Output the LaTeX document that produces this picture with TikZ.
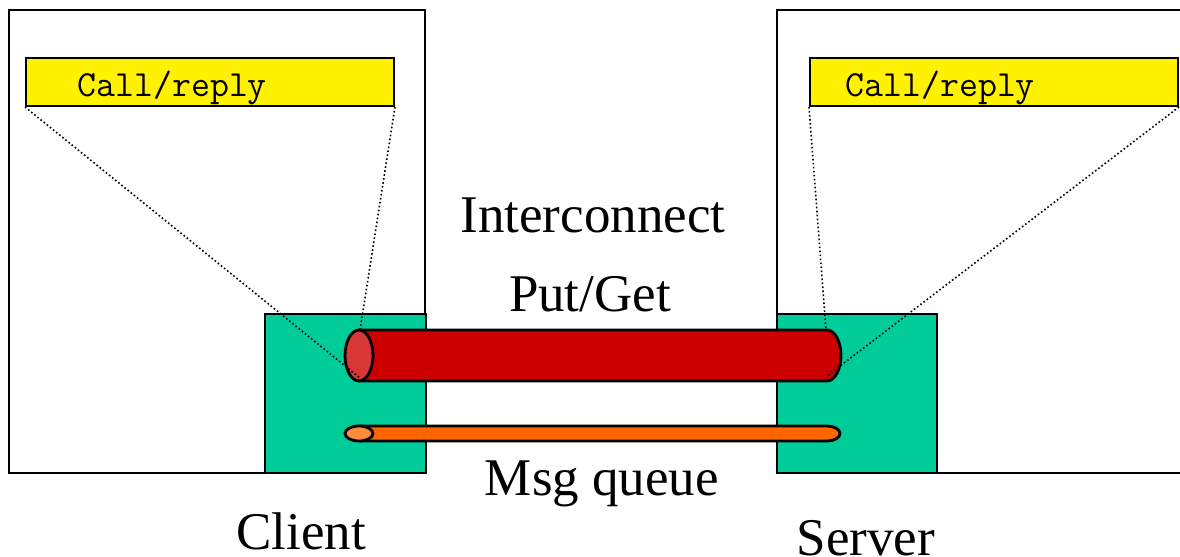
\documentclass[tikz,border=0pt]{standalone}
\usepackage{fontspec}
\setmainfont{Liberation Serif}
\begin{document}
\begin{tikzpicture}[x=0.5pt,y=-0.5pt,
  outerbox/.style={draw=black,line width=0.8pt},
  stub/.style={draw=black,line width=1.3pt,fill=stubgreen},
  callbox/.style={draw=black,line width=1pt,fill=yellow,anchor=north west,
    minimum width=184pt,minimum height=24pt,inner sep=0pt},
  calltext/.style={font=\ttfamily\fontsize{18.4}{18.4}\selectfont,anchor=base west,inner sep=0pt},
  bigtext/.style={font=\fontsize{26.5}{26.5}\selectfont,anchor=base,inner sep=0pt},
  zoomline/.style={draw=black,line width=0.8pt,dash pattern=on 0.8pt off 1.2pt},
  pipe/.style={draw=black,line width=1.4pt}]
\definecolor{stubgreen}{HTML}{00CC99}
\definecolor{pipered}{HTML}{CC0000}
\definecolor{pipeend}{HTML}{D93636}
\definecolor{queueorange}{HTML}{FF6600}
\definecolor{queueend}{HTML}{FF8C3A}
\useasboundingbox (0,0) rectangle (1180,557);

% host frames
\draw[outerbox] (9,10) rectangle (425,473);
\draw[outerbox] (1190,10) -- (777,10) -- (777,473) -- (1190,473);

% communication stubs
\draw[stub] (265,314) rectangle (426,473);
\draw[stub] (777,314) rectangle (937,473);

% call/reply boxes
\node[callbox] (cbox) at (25,57) {};
\node[callbox] (sbox) at (809,57) {};
\node[calltext] (ctext) at (77,97) {Call/reply};
\node[calltext] (stext) at (845,97) {Call/reply};

% interconnect pipe (y axis points down, so arcs run from -90 to 90)
\coordinate (pl) at (359,355.5);
\coordinate (pltop) at (360,330);
\coordinate (plbot) at (360,378);
\coordinate (prtop) at (826,330);
\coordinate (prbot) at (827,376);
\fill[pipered] (359,330) -- (827,330) arc[start angle=-90,end angle=90,x radius=14,y radius=25.5] -- (359,381) -- cycle;
\draw[pipe] (359,330) -- (827,330) arc[start angle=-90,end angle=90,x radius=14,y radius=25.5] -- (359,381);
\draw[pipe,fill=pipeend] (pl) ellipse[x radius=14,y radius=25.5];

% message queue pipe
\coordinate (ql) at (359,433.5);
\fill[queueorange] (359,426) -- (827,426) arc[start angle=-90,end angle=90,x radius=13,y radius=7.5] -- (359,441) -- cycle;
\draw[pipe] (359,426) -- (827,426) arc[start angle=-90,end angle=90,x radius=13,y radius=7.5] -- (359,441);
\draw[pipe,fill=queueend] (ql) ellipse[x radius=14,y radius=7.5];

% zoom lines
\draw[zoomline] (cbox.south west) -- (plbot);
\draw[zoomline] (cbox.south east) -- (pltop);
\draw[zoomline] (sbox.south west) -- (prtop);
\draw[zoomline] (sbox.south east) -- (prbot);

% labels
\node[bigtext] (inter) at (593,232) {Interconnect};
\node[bigtext] (putget) at (590,311) {Put/Get};
\node[bigtext] (msgq) at (602,495) {Msg queue};
\node[bigtext] (client) at (301,549) {Client};
\node[bigtext] (server) at (866,555) {Server};
\end{tikzpicture}
\end{document}
